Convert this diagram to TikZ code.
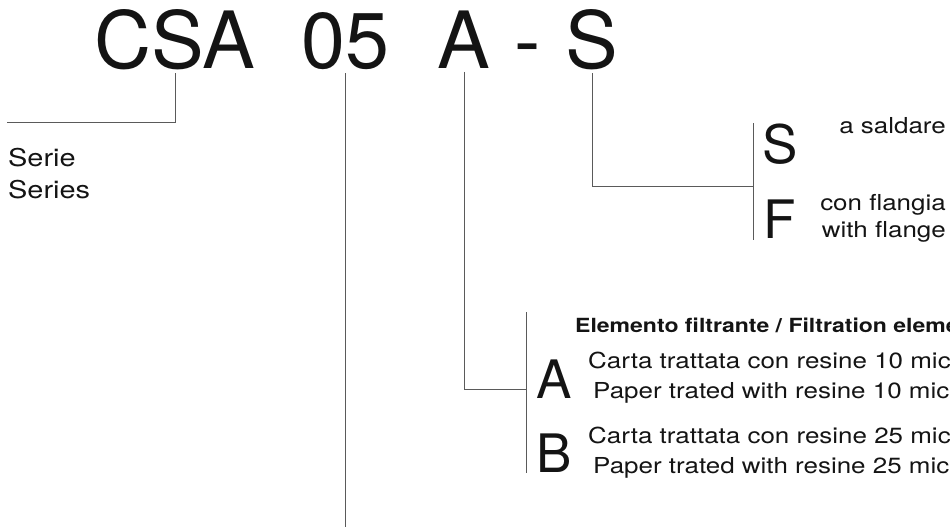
\documentclass[tikz,border=0pt]{standalone}
\usepackage{fontspec}
\setmainfont{TeX Gyre Heros}
\newfontfamily\widefont{TeX Gyre Heros}[FakeStretch=1.18]
\usepackage{xcolor}
\definecolor{leadgray}{RGB}{90,90,90}
\definecolor{inkblack}{RGB}{20,20,20}

\begin{document}
\begin{tikzpicture}[x=1pt, y=-1pt,
        codechar/.style={anchor=base, inner sep=0pt, outer sep=4pt, text=inkblack, font=\fontsize{79}{79}\selectfont},
        optchar/.style={anchor=base, inner sep=0pt, text=inkblack, font=\fontsize{53}{53}\selectfont},
        txt/.style={anchor=base west, inner sep=0pt, text=inkblack, font=\widefont\fontsize{22}{26}\selectfont},
        leader/.style={leadgray, line width=1pt}]
    \useasboundingbox (0,0) rectangle (950,527);
    \clip (0,0) rectangle (950,527);

    % code
    \node[codechar] (cod-csa) at (175,68) {CSA};
    \node[codechar] (cod-05) at (345,68) {05};
    \node[codechar] (cod-a) at (464,68) {A};
    \node[codechar] (cod-dash) at (528,68) {-};
    \node[codechar] (cod-s) at (592,68) {S};

    % series
    \coordinate (serie-end) at (7,122);
    \draw[leader] (cod-csa.south) |- (serie-end);
    \node[txt, font=\widefont\fontsize{24.5}{32}\selectfont] (serie) at (8,166) {Serie};
    \node[txt, font=\widefont\fontsize{24.5}{32}\selectfont] (series) at (8,198) {Series};

    % size
    \coordinate (size-end) at (345,527);
    \draw[leader] (cod-05.south) -- (size-end);

    % filter element
    \coordinate (elem-top) at (526,312);
    \coordinate (elem-mid) at (526,389);
    \coordinate (elem-bot) at (526,473);
    \draw[leader] (cod-a.south) |- (elem-mid);
    \draw[leader] (elem-top) -- (elem-bot);
    \node[txt, font=\widefont\bfseries\fontsize{19.5}{22}\selectfont] (elem-head) at (575,332) {Elemento filtrante / Filtration element};
    \node[optchar] (opt-a) at (554,398) {A};
    \node[optchar] (opt-b) at (554,472) {B};
    \foreach \k/\res/\yy in {a/10/368, b/25/443}{
        \node[txt] (\k-it) at (588,\yy) {Carta trattata con resine \res\ micron};
        \node[txt] (\k-en) at (593,{\yy+30}) {Paper trated with resine \res\ micron};
    }

    % connection
    \coordinate (conn-top) at (753,123);
    \coordinate (conn-mid) at (753,186);
    \coordinate (conn-bot) at (753,240);
    \draw[leader] (cod-s.south) |- (conn-mid);
    \draw[leader] (conn-top) -- (conn-bot);
    \node[optchar] (opt-s) at (780,163) {S};
    \node[optchar] (opt-f) at (780,238) {F};
    \node[txt, anchor=base east] (s-it) at (946,133) {a saldare};
    \node[txt, anchor=base east] (f-it) at (946,210) {con flangia};
    \node[txt, anchor=base east] (f-en) at (946,237) {with flange};
\end{tikzpicture}
\end{document}
